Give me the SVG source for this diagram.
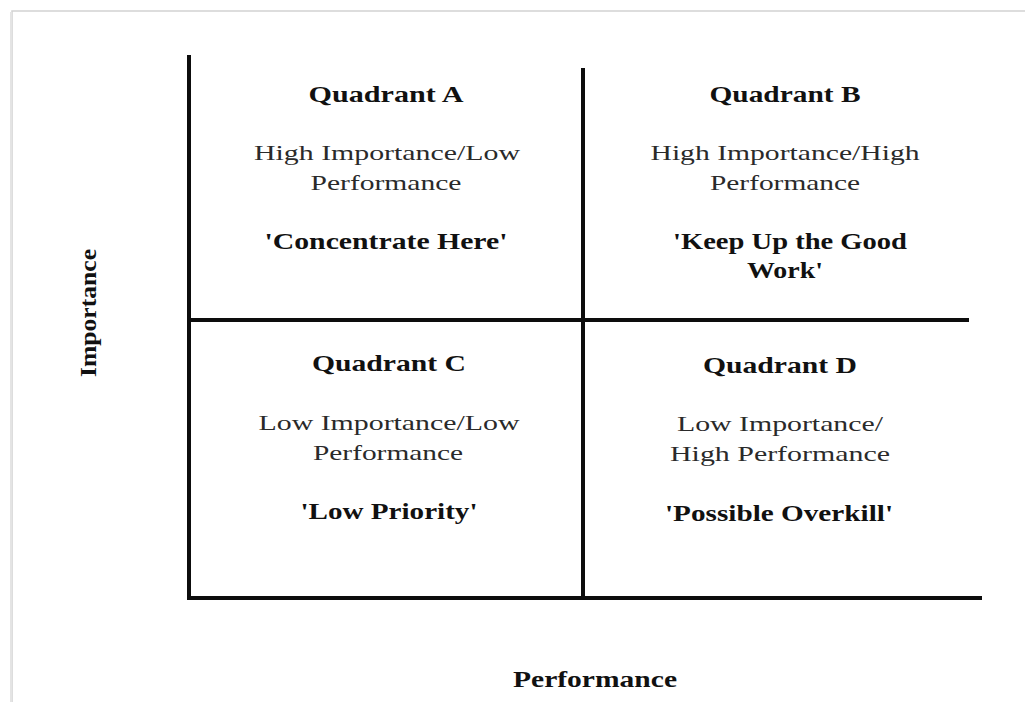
<svg xmlns="http://www.w3.org/2000/svg" width="1025" height="702" viewBox="0 0 1025 702">
<style>
text{font-family:"Liberation Serif","Times New Roman",serif;text-anchor:middle;fill:#1a1a1a}
.h{font-weight:bold;font-size:23px;fill:#111}
.r{font-size:21px;fill:#2a2a2a}
.b{font-weight:bold;font-size:23px;fill:#111}
.ax{stroke:#0d0d0d;stroke-width:4;stroke-linecap:butt;fill:none}
</style>
<rect width="1025" height="702" fill="#ffffff"/>
<rect x="12" y="11" width="1100" height="800" fill="#ffffff" stroke="#d2d2d2" stroke-width="1.5"/>
<line x1="11" y1="12" x2="11" y2="702" stroke="#e4e4e4" stroke-width="2"/>
<g id="connectors">
<line class="ax" x1="189" y1="55" x2="189" y2="600"/>
<line class="ax" x1="187" y1="598" x2="982" y2="598"/>
<line class="ax" x1="190" y1="320" x2="969" y2="320"/>
<line class="ax" x1="583" y1="68" x2="583" y2="598"/>
</g>
<g id="quadrantA">
<text class="h" x="386" y="102" textLength="155" lengthAdjust="spacingAndGlyphs">Quadrant A</text>
<text class="r" x="387" y="160" textLength="266" lengthAdjust="spacingAndGlyphs">High Importance/Low</text>
<text class="r" x="386" y="190" textLength="151" lengthAdjust="spacingAndGlyphs">Performance</text>
<text class="b" x="386" y="249" textLength="243" lengthAdjust="spacingAndGlyphs">'Concentrate Here'</text>
</g>
<g id="quadrantB">
<text class="h" x="785" y="102" textLength="151" lengthAdjust="spacingAndGlyphs">Quadrant B</text>
<text class="r" x="785" y="160" textLength="269" lengthAdjust="spacingAndGlyphs">High Importance/High</text>
<text class="r" x="785" y="190" textLength="150" lengthAdjust="spacingAndGlyphs">Performance</text>
<text class="b" x="790" y="249" textLength="234" lengthAdjust="spacingAndGlyphs">'Keep Up the Good</text>
<text class="b" x="785" y="278" textLength="76" lengthAdjust="spacingAndGlyphs">Work'</text>
</g>
<g id="quadrantC">
<text class="h" x="389" y="371" textLength="154" lengthAdjust="spacingAndGlyphs">Quadrant C</text>
<text class="r" x="389" y="430" textLength="261" lengthAdjust="spacingAndGlyphs">Low Importance/Low</text>
<text class="r" x="388" y="460" textLength="150" lengthAdjust="spacingAndGlyphs">Performance</text>
<text class="b" x="389" y="519" textLength="177" lengthAdjust="spacingAndGlyphs">'Low Priority'</text>
</g>
<g id="quadrantD">
<text class="h" x="780" y="373" textLength="154" lengthAdjust="spacingAndGlyphs">Quadrant D</text>
<text class="r" x="780" y="431" textLength="206" lengthAdjust="spacingAndGlyphs">Low Importance/</text>
<text class="r" x="780" y="461" textLength="220" lengthAdjust="spacingAndGlyphs">High Performance</text>
<text class="b" x="779" y="521" textLength="228" lengthAdjust="spacingAndGlyphs">'Possible Overkill'</text>
</g>
<g id="axisLabels">
<text class="b" x="595" y="687" textLength="164" lengthAdjust="spacingAndGlyphs">Performance</text>
<text class="b" x="0" y="0" transform="translate(96,313) rotate(-90)" textLength="128" lengthAdjust="spacingAndGlyphs">Importance</text>
</g>
</svg>
